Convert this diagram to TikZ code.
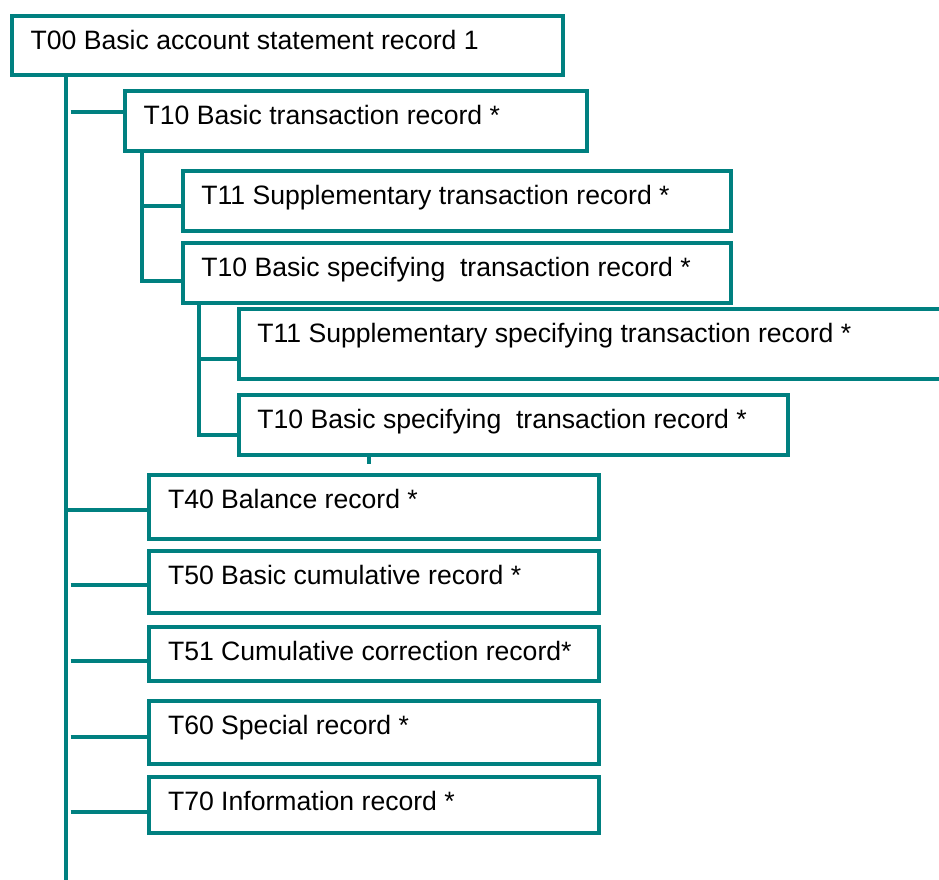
\documentclass[tikz,border=0pt]{standalone}
\usepackage{fontspec}
\setmainfont{Liberation Sans}
\definecolor{treeteal}{RGB}{0,128,128}
\tikzset{
  recbox/.style={draw=treeteal, line width=4pt, rectangle, inner sep=0pt, anchor=north west},
  reclabel/.style={anchor=base west, inner sep=0pt, font=\fontsize{26.6}{32}\selectfont, text=black},
  link/.style={draw=treeteal, line width=4pt},
}
% name, left, top, right, bottom (border centre lines), text
\newcommand\recordbox[6]{%
  \node[recbox, minimum width={#4-#2}, minimum height={#5-#3}] (#1) at (#2,#3) {};
  \node[reclabel] (#1-text) at ([xshift=20.5pt,yshift=-35.5pt]#1.north west) {#6};
}
\begin{document}
\begin{tikzpicture}[x=1pt,y=-1pt]
  \clip (0,0) rectangle (939,879);
  \fill[white] (0,0) rectangle (939,879);

  % record boxes
  \recordbox{T00}{10}{14}{560.7}{72.7}{T00 Basic account statement record 1}
  \recordbox{T10}{123}{89.3}{584.7}{148.5}{T10 Basic transaction record *}
  \recordbox{T11}{180.7}{169.3}{728.7}{228.7}{T11 Supplementary transaction record *}
  \recordbox{T10s}{180.7}{240.7}{728.7}{300.7}{T10 Basic specifying\ \ transaction record *}
  \recordbox{T11s}{236.7}{307.3}{990}{377.3}{T11 Supplementary specifying transaction record *}
  \recordbox{T10ss}{236.7}{393.3}{786}{452.7}{T10 Basic specifying\ \ transaction record *}
  \recordbox{T40}{147.3}{472.5}{596.7}{536.7}{T40 Balance record *}
  \recordbox{T50}{147.3}{549.3}{596.7}{611.3}{T50 Basic cumulative record *}
  \recordbox{T51}{147.3}{624.7}{596.7}{679.3}{T51 Cumulative correction record*}
  \recordbox{T60}{147.3}{699.3}{596.7}{762}{T60 Special record *}
  \recordbox{T70}{147.3}{775.3}{596.7}{830.7}{T70 Information record *}

  % tree lines
  \coordinate (trunk) at (65.5,885);
  \coordinate (stub) at (70.7,0);
  \coordinate (sub1) at (142,0);
  \coordinate (sub2) at (199.3,0);
  \coordinate (tickend) at (369.3,464);

  \draw[link] (T00.south -| trunk) -- (trunk);
  \draw[link] (stub |- 0,111.5) -- (T10.west |- 0,111.5);
  \draw[link] (trunk |- 0,510) -- (T40.west |- 0,510);
  \draw[link] (stub |- 0,585.3) -- (T50.west |- 0,585.3);
  \draw[link] (stub |- 0,660.7) -- (T51.west |- 0,660.7);
  \draw[link] (stub |- 0,736.7) -- (T60.west |- 0,736.7);
  \draw[link] (stub |- 0,812) -- (T70.west |- 0,812);

  \draw[link] (T10.south -| sub1) -- (sub1 |- 0,280.7) -- (T10s.west |- 0,280.7);
  \draw[link] (sub1 |- 0,206) -- (T11.west |- 0,206);

  \draw[link] (T10s.south -| sub2) -- (sub2 |- 0,434.7) -- (T10ss.west |- 0,434.7);
  \draw[link] (sub2 |- 0,358.7) -- (T11s.west |- 0,358.7);

  \draw[link] (T10ss.south -| tickend) -- (tickend);
\end{tikzpicture}
\end{document}
